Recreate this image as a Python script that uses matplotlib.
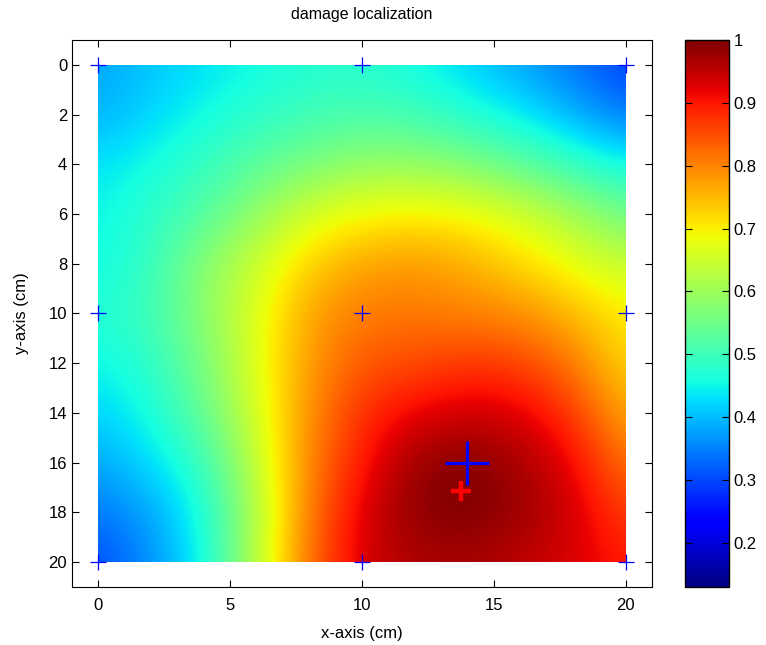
import numpy as np
import matplotlib
matplotlib.use('Agg')
import matplotlib.pyplot as plt
from matplotlib.patches import Rectangle

plt.rcParams['font.family'] = ['Liberation Sans', 'DejaVu Sans']

# grid positions (cm) where the damage index was read
x_pos = [0, 2, 4, 6, 8, 10, 12, 14, 16, 18, 20]
y_pos = [0, 2, 4, 6, 8, 10, 12, 14, 16, 18, 20]

# damage index, one row per y position
row_y0 = [0.38, 0.41, 0.43, 0.455, 0.47, 0.475, 0.455, 0.42, 0.38, 0.34, 0.29]
row_y2 = [0.39, 0.42, 0.455, 0.48, 0.50, 0.51, 0.50, 0.47, 0.44, 0.39, 0.34]
row_y4 = [0.43, 0.46, 0.49, 0.53, 0.56, 0.59, 0.59, 0.57, 0.53, 0.49, 0.45]
row_y6 = [0.45, 0.48, 0.52, 0.59, 0.66, 0.69, 0.70, 0.69, 0.66, 0.61, 0.55]
row_y8 = [0.45, 0.49, 0.58, 0.65, 0.73, 0.77, 0.78, 0.76, 0.72, 0.68, 0.64]
row_y10 = [0.47, 0.50, 0.58, 0.67, 0.77, 0.81, 0.81, 0.80, 0.79, 0.75, 0.70]
row_y12 = [0.45, 0.48, 0.56, 0.67, 0.78, 0.84, 0.85, 0.87, 0.86, 0.81, 0.72]
row_y14 = [0.42, 0.46, 0.54, 0.66, 0.79, 0.88, 0.92, 0.94, 0.93, 0.87, 0.76]
row_y16 = [0.38, 0.43, 0.49, 0.64, 0.80, 0.90, 0.98, 1.00, 0.97, 0.92, 0.81]
row_y18 = [0.34, 0.38, 0.46, 0.62, 0.81, 0.93, 0.99, 1.00, 0.98, 0.94, 0.86]
row_y20 = [0.30, 0.36, 0.45, 0.63, 0.82, 0.94, 0.96, 0.97, 0.95, 0.93, 0.90]

# sensor positions
sensor_x = [0, 10, 20, 0, 10, 20, 0, 10, 20]
sensor_y = [0, 0, 0, 10, 10, 10, 20, 20, 20]

# actual damage (blue) and estimated damage (red)
actual_x, actual_y = 14, 16
estim_x, estim_y = 13.75, 17.15

cbar_ticks = [0.2, 0.3, 0.4, 0.5, 0.6, 0.7, 0.8, 0.9, 1.0]
cbar_labels = ['0.2', '0.3', '0.4', '0.5', '0.6', '0.7', '0.8', '0.9', '1']

Z = np.array([row_y0, row_y2, row_y4, row_y6, row_y8, row_y10,
              row_y12, row_y14, row_y16, row_y18, row_y20])

fig = plt.figure(figsize=(7.66, 6.45), dpi=100)
ax = fig.add_axes([0.094, 0.090, 0.757, 0.848])
cax = fig.add_axes([0.894, 0.090, 0.0574, 0.848])

# cells are centred on the grid points; clip the picture to the plate 0..20
step = x_pos[1] - x_pos[0]
img = ax.imshow(Z, cmap='jet', vmin=0.13, vmax=1.0, interpolation='bicubic',
                extent=(x_pos[0] - step / 2, x_pos[-1] + step / 2,
                        y_pos[-1] + step / 2, y_pos[0] - step / 2),
                aspect='auto')
plate = Rectangle((x_pos[0], y_pos[0]), x_pos[-1] - x_pos[0], y_pos[-1] - y_pos[0],
                  transform=ax.transData, facecolor='none', edgecolor='none')
img.set_clip_path(plate)

ax.plot(sensor_x, sensor_y, '+', color='b', markersize=11, markeredgewidth=0.9)
ax.plot(actual_x, actual_y, '+', color='b', markersize=31, markeredgewidth=2.3)
ax.plot(estim_x, estim_y, '+', color='r', markersize=14, markeredgewidth=3.2)

ax.set_xlim(-1, 21)
ax.set_ylim(21, -1)
ax.set_xticks([0, 5, 10, 15, 20])
ax.set_yticks(np.arange(0, 21, 2))
ax.tick_params(direction='in', top=True, right=True, length=5, labelsize=12)
ax.tick_params(axis='x', pad=8)
ax.set_xlabel('x-axis (cm)', fontsize=12, labelpad=9)
ax.set_ylabel('y-axis (cm)', fontsize=12, labelpad=14)
ax.set_title('damage localization', fontsize=11.5, pad=15)

cb = fig.colorbar(img, cax=cax)
cb.set_ticks(cbar_ticks)
cb.set_ticklabels(cbar_labels)
cax.tick_params(direction='in', left=True, right=True, length=5, labelsize=12)
cb.outline.set_linewidth(1)

fig.savefig('out.png', dpi=100)
